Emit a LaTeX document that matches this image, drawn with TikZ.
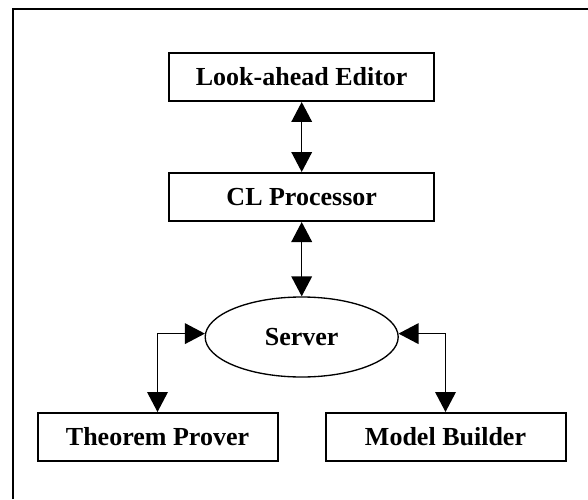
\documentclass[tikz,border=0pt]{standalone}
\usepackage{fontspec}
\setmainfont{Liberation Serif}
\usetikzlibrary{arrows.meta,shapes.geometric}

\tikzset{
	blk/.style={draw, line width=1.5pt, minimum height=36pt, inner sep=0pt, font=\fontsize{19.5}{23}\selectfont\bfseries},
	topblk/.style={blk, minimum width=198.75pt},
	lowblk/.style={blk, minimum width=180pt},
	hub/.style={draw, ellipse, line width=1pt, minimum width=144.75pt, minimum height=60pt, inner sep=0pt, font=\fontsize{19.5}{23}\selectfont\bfseries},
	dbl/.style={line width=1pt, {Triangle[length=15pt,width=15.5pt]}-{Triangle[length=15pt,width=15.5pt]}}
}

\begin{document}
\begin{tikzpicture}[x=0.75pt,y=0.75pt,yscale=-1,xscale=1]
	\useasboundingbox (0,0) rectangle (588,499);
	% frame
	\draw [line width=1.5pt] (13,499) -- (13,9) -- (588,9) ;

	\node [topblk] (editor) at (301.7,77) {Look-ahead Editor};
	\node [topblk] (clproc) at (301.7,197) {CL Processor};
	\node [hub] (server) at (301.7,337) {Server};
	\node [lowblk] (prover) at (157.5,437) {Theorem Prover};
	\node [lowblk] (builder) at (445.5,437) {Model Builder};

	\draw [dbl] (editor) -- (clproc) ;
	\draw [dbl] (clproc) -- (server) ;
	\draw [dbl] (prover.north) |- (server.178) ;
	\draw [dbl] (builder.north) |- (server.2) ;
\end{tikzpicture}
\end{document}
